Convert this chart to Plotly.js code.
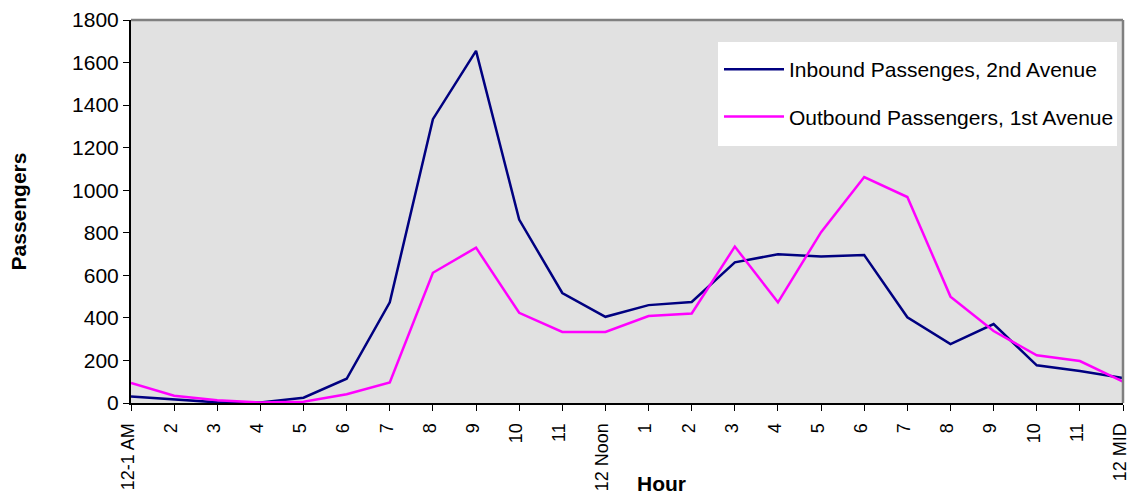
<!DOCTYPE html>
<html>
<head>
<meta charset="utf-8">
<script src="https://cdn.plot.ly/plotly-3.0.1.min.js"></script>
<style>html,body{margin:0;padding:0;background:#fff;}#chart{width:1131px;height:495px;}</style>
</head>
<body>
<div id="chart"></div>
<script>
const hourLabels = ["12-1 AM","2","3","4","5","6","7","8","9","10","11","12 Noon","1","2","3","4","5","6","7","8","9","10","11","12 MID"];
const inbound = [30,18,3,2,25,114,473,1334,1655,862,517,405,460,475,661,699,689,695,403,277,371,177,150,117];
const outbound = [94,34,13,2,6,41,97,612,730,424,334,334,409,421,735,473,803,1062,968,500,338,224,197,100];
const seriesNames = ["Inbound Passenges, 2nd Avenue","Outbound Passengers, 1st Avenue"];

const xIdx = hourLabels.map((_, i) => i);
const font = "Arial, 'Liberation Sans', sans-serif";

const traces = [
  {x: xIdx, y: inbound, name: seriesNames[0], type: 'scatter', mode: 'lines',
   line: {color: '#000080', width: 2.5}, legendgroup: 'a'},
  {x: xIdx, y: outbound, name: seriesNames[1], type: 'scatter', mode: 'lines',
   line: {color: '#ff00ff', width: 2.5}, legendgroup: 'b'}
];

// plot area in pixels: x 131..1123, y 20..403
const px = v => (v - 131) / 992;
const py = v => (403 - v) / 383;

const layout = {
  width: 1131, height: 495,
  margin: {l: 131, r: 8, t: 20, b: 92, pad: 0},
  paper_bgcolor: '#ffffff',
  plot_bgcolor: '#e1e1e1',
  font: {family: font, color: '#000', size: 21},
  showlegend: true,
  legend: {
    x: px(719), y: py(49), xanchor: 'left', yanchor: 'top',
    bgcolor: 'rgba(0,0,0,0)', borderwidth: 0,
    font: {family: font, size: 21, color: '#000'},
    traceorder: 'grouped', tracegroupgap: 17,
    itemwidth: 60
  },
  xaxis: {
    range: [0, 23], tickmode: 'array', tickvals: xIdx, ticktext: hourLabels,
    tickangle: -90, ticks: 'outside', ticklen: 6, tickcolor: '#000', tickwidth: 1,
    ticklabeloverflow: 'allow', ticklabelstandoff: 5, ticklabelshift: -3,
    showgrid: false, zeroline: false, showline: true, linecolor: '#000', linewidth: 2,
    tickfont: {family: font, size: 18, color: '#000'},
    automargin: false, fixedrange: true
  },
  yaxis: {
    range: [0, 1800], dtick: 200, tick0: 0,
    ticks: 'outside', ticklen: 6, tickcolor: '#000', tickwidth: 1,
    showgrid: false, zeroline: false, showline: true, linecolor: '#000', linewidth: 2,
    tickfont: {family: font, size: 21, color: '#000'},
    title: {text: 'Passengers', font: {family: font, size: 21, color: '#000', weight: 'bold'}, standoff: 40},
    automargin: false, fixedrange: true
  },
  annotations: [
    {text: '<b>Hour</b>', xref: 'paper', yref: 'paper', x: px(661), y: py(483),
     xanchor: 'center', yanchor: 'middle', showarrow: false,
     font: {family: font, size: 21, color: '#000'}}
  ],
  shapes: [
    {type: 'rect', xref: 'paper', yref: 'paper', x0: px(718), x1: px(1117), y0: py(146), y1: py(42),
     fillcolor: '#ffffff', line: {width: 0}, layer: 'below'},
    {type: 'line', xref: 'paper', yref: 'paper', x0: 0, x1: 1, y0: 1, y1: 1, line: {color: '#808080', width: 2.5}, layer: 'above'},
    {type: 'line', xref: 'paper', yref: 'paper', x0: 1, x1: 1, y0: 0, y1: 1, line: {color: '#808080', width: 2.5}, layer: 'above'}
  ]
};

Plotly.newPlot('chart', traces, layout, {displayModeBar: false, staticPlot: true});
</script>
</body>
</html>
